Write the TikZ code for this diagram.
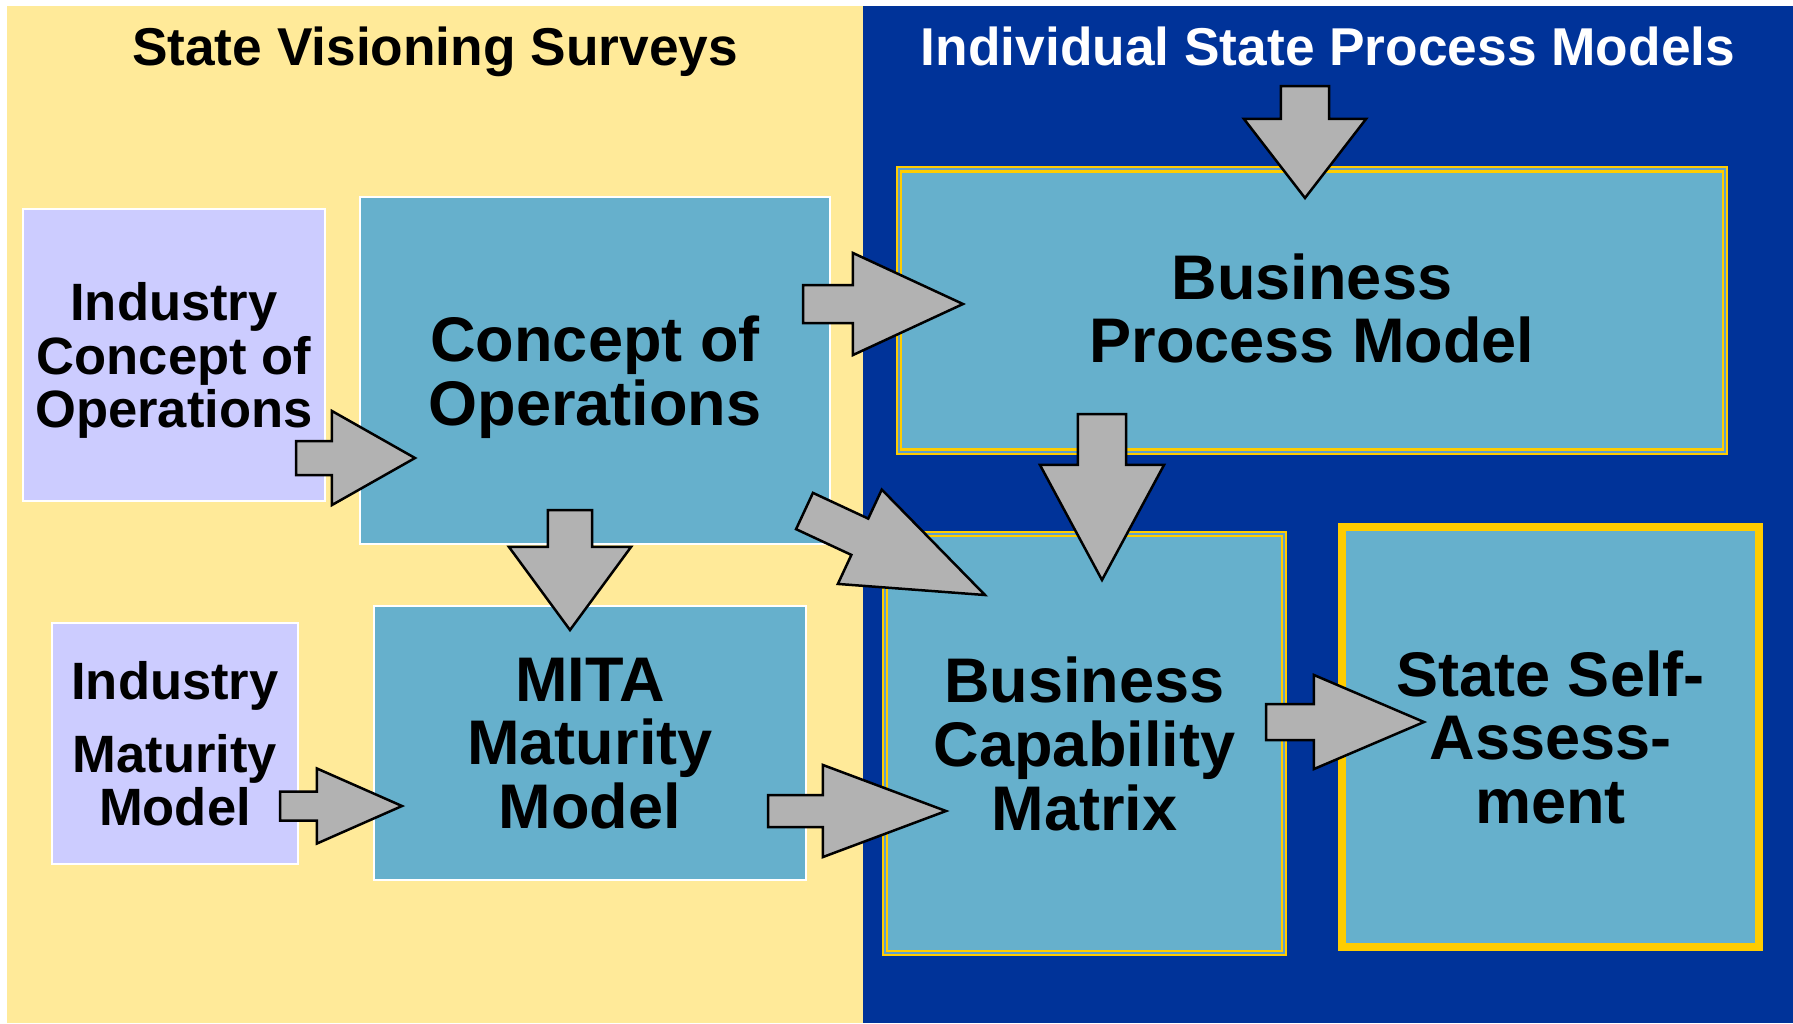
\documentclass[tikz,border=0pt]{standalone}
\usepackage{fontspec}
\setmainfont{Liberation Sans}
\usepackage{xcolor}
\usetikzlibrary{calc}

\definecolor{panelyellow}{HTML}{FFEA99}
\definecolor{panelblue}{HTML}{003399}
\definecolor{boxteal}{HTML}{66B0CC}
\definecolor{boxlilac}{HTML}{CCCCFF}
\definecolor{arrowgray}{HTML}{B2B2B2}
\definecolor{rimyellow}{HTML}{FFCC00}
\definecolor{rimgap}{HTML}{5F9FCC}

% #1 from node, #2 offset, #3 to node, #4 offset, #5 shaft half width, #6 head half width, #7 head length
\newcommand{\blockarr}[7]{%
  \coordinate (arrtail) at ($(#1.center)+(#2)$);
  \coordinate (arrtip) at ($(#3.center)+(#4)$);
  \draw[blockarrow] ($(arrtail)!#5!90:(arrtip)$) -- ($(arrtip)!#7!(arrtail)!#5!-90:(arrtail)$)
    -- ($(arrtip)!#7!(arrtail)!#6!-90:(arrtail)$) -- (arrtip)
    -- ($(arrtip)!#7!(arrtail)!#6!90:(arrtail)$) -- ($(arrtip)!#7!(arrtail)!#5!90:(arrtail)$)
    -- ($(arrtail)!#5!-90:(arrtip)$) -- cycle;}

\begin{document}
\begin{tikzpicture}[x=0.01cm, y=-0.01cm,
  box/.style={draw=white, line width=0.015cm, inner sep=0pt, align=center, text depth=0pt},
  lilacbox/.style={box, fill=boxlilac, font=\fontsize{14.94}{15.2}\selectfont\bfseries},
  tealbox/.style={box, fill=boxteal, font=\fontsize{17.93}{18.1}\selectfont\bfseries},
  rimbox/.style={tealbox, draw=rimyellow, line width=0.022cm, double=rimgap, double distance=0.022cm},
  thickrim/.style={tealbox, draw=rimyellow, line width=0.085cm},
  heading/.style={anchor=base, font=\fontsize{15.15}{16}\selectfont\bfseries},
  blockarrow/.style={draw=black, fill=arrowgray, line width=0.025cm, line join=miter}]
  \useasboundingbox (0,0) rectangle (1793,1023);
  \fill[white] (0,0) rectangle (1793,1023);
  \fill[panelyellow] (7,6) rectangle (863,1023);
  \fill[panelblue] (863,6) rectangle (1793,1023);

  \node[heading] (ttlL) at (435,65) {State Visioning Surveys};
  \node[heading, text=white] (ttlR) at (1328,65) {Individual State Process Models};

  \node[lilacbox, minimum width=3.02cm, minimum height=2.92cm] (icop) at (174,355) {Industry\\Concept of\\Operations};
  \node[tealbox, minimum width=4.70cm, minimum height=3.47cm] (cop) at (595,370.5) {Concept of\\Operations};
  \node[lilacbox, minimum width=2.46cm, minimum height=2.41cm] (imm) at (175,743.5) {Industry\\[5.4pt]Maturity\\Model};
  \node[tealbox, minimum width=4.32cm, minimum height=2.74cm] (mita) at (590,743) {MITA\\Maturity\\Model};
  \node[rimbox, text depth=1.4pt, minimum width=8.254cm, minimum height=2.824cm] (bpm) at (1312,310.5) {Business\\Process Model};
  \node[rimbox, minimum width=3.984cm, minimum height=4.184cm] (bcm) at (1084.5,743.5) {Business\\Capability\\Matrix};
  \node[thickrim, minimum width=4.165cm, minimum height=4.195cm] (ssa) at (1550.5,737) {State Self-\\Assess-\\ment};

  \blockarr{icop}{122,103}{cop}{-180,87.5}{0.17cm}{0.47cm}{0.83cm}
  \blockarr{imm}{105,62.5}{mita}{-188,63}{0.145cm}{0.375cm}{0.85cm}
  \blockarr{cop}{-25,139.5}{mita}{-20,-113}{0.22cm}{0.61cm}{0.83cm}
  \blockarr{cop}{208,-66.5}{bpm}{-349,-6.5}{0.19cm}{0.51cm}{1.10cm}
  \blockarr{bpm}{-7,-224.5}{bpm}{-7,-112.5}{0.24cm}{0.61cm}{0.79cm}
  \blockarr{bpm}{-210,103.5}{bcm}{17.5,-163.5}{0.24cm}{0.62cm}{1.15cm}
  \blockarr{cop}{209.5,140.5}{bcm}{-99.5,-148.5}{0.20cm}{0.52cm}{1.38cm}
  \blockarr{mita}{178,68}{bcm}{-138.5,67.5}{0.16cm}{0.46cm}{1.23cm}
  \blockarr{bcm}{181.5,-21.5}{ssa}{-126.5,-15}{0.18cm}{0.47cm}{1.10cm}
\end{tikzpicture}
\end{document}
